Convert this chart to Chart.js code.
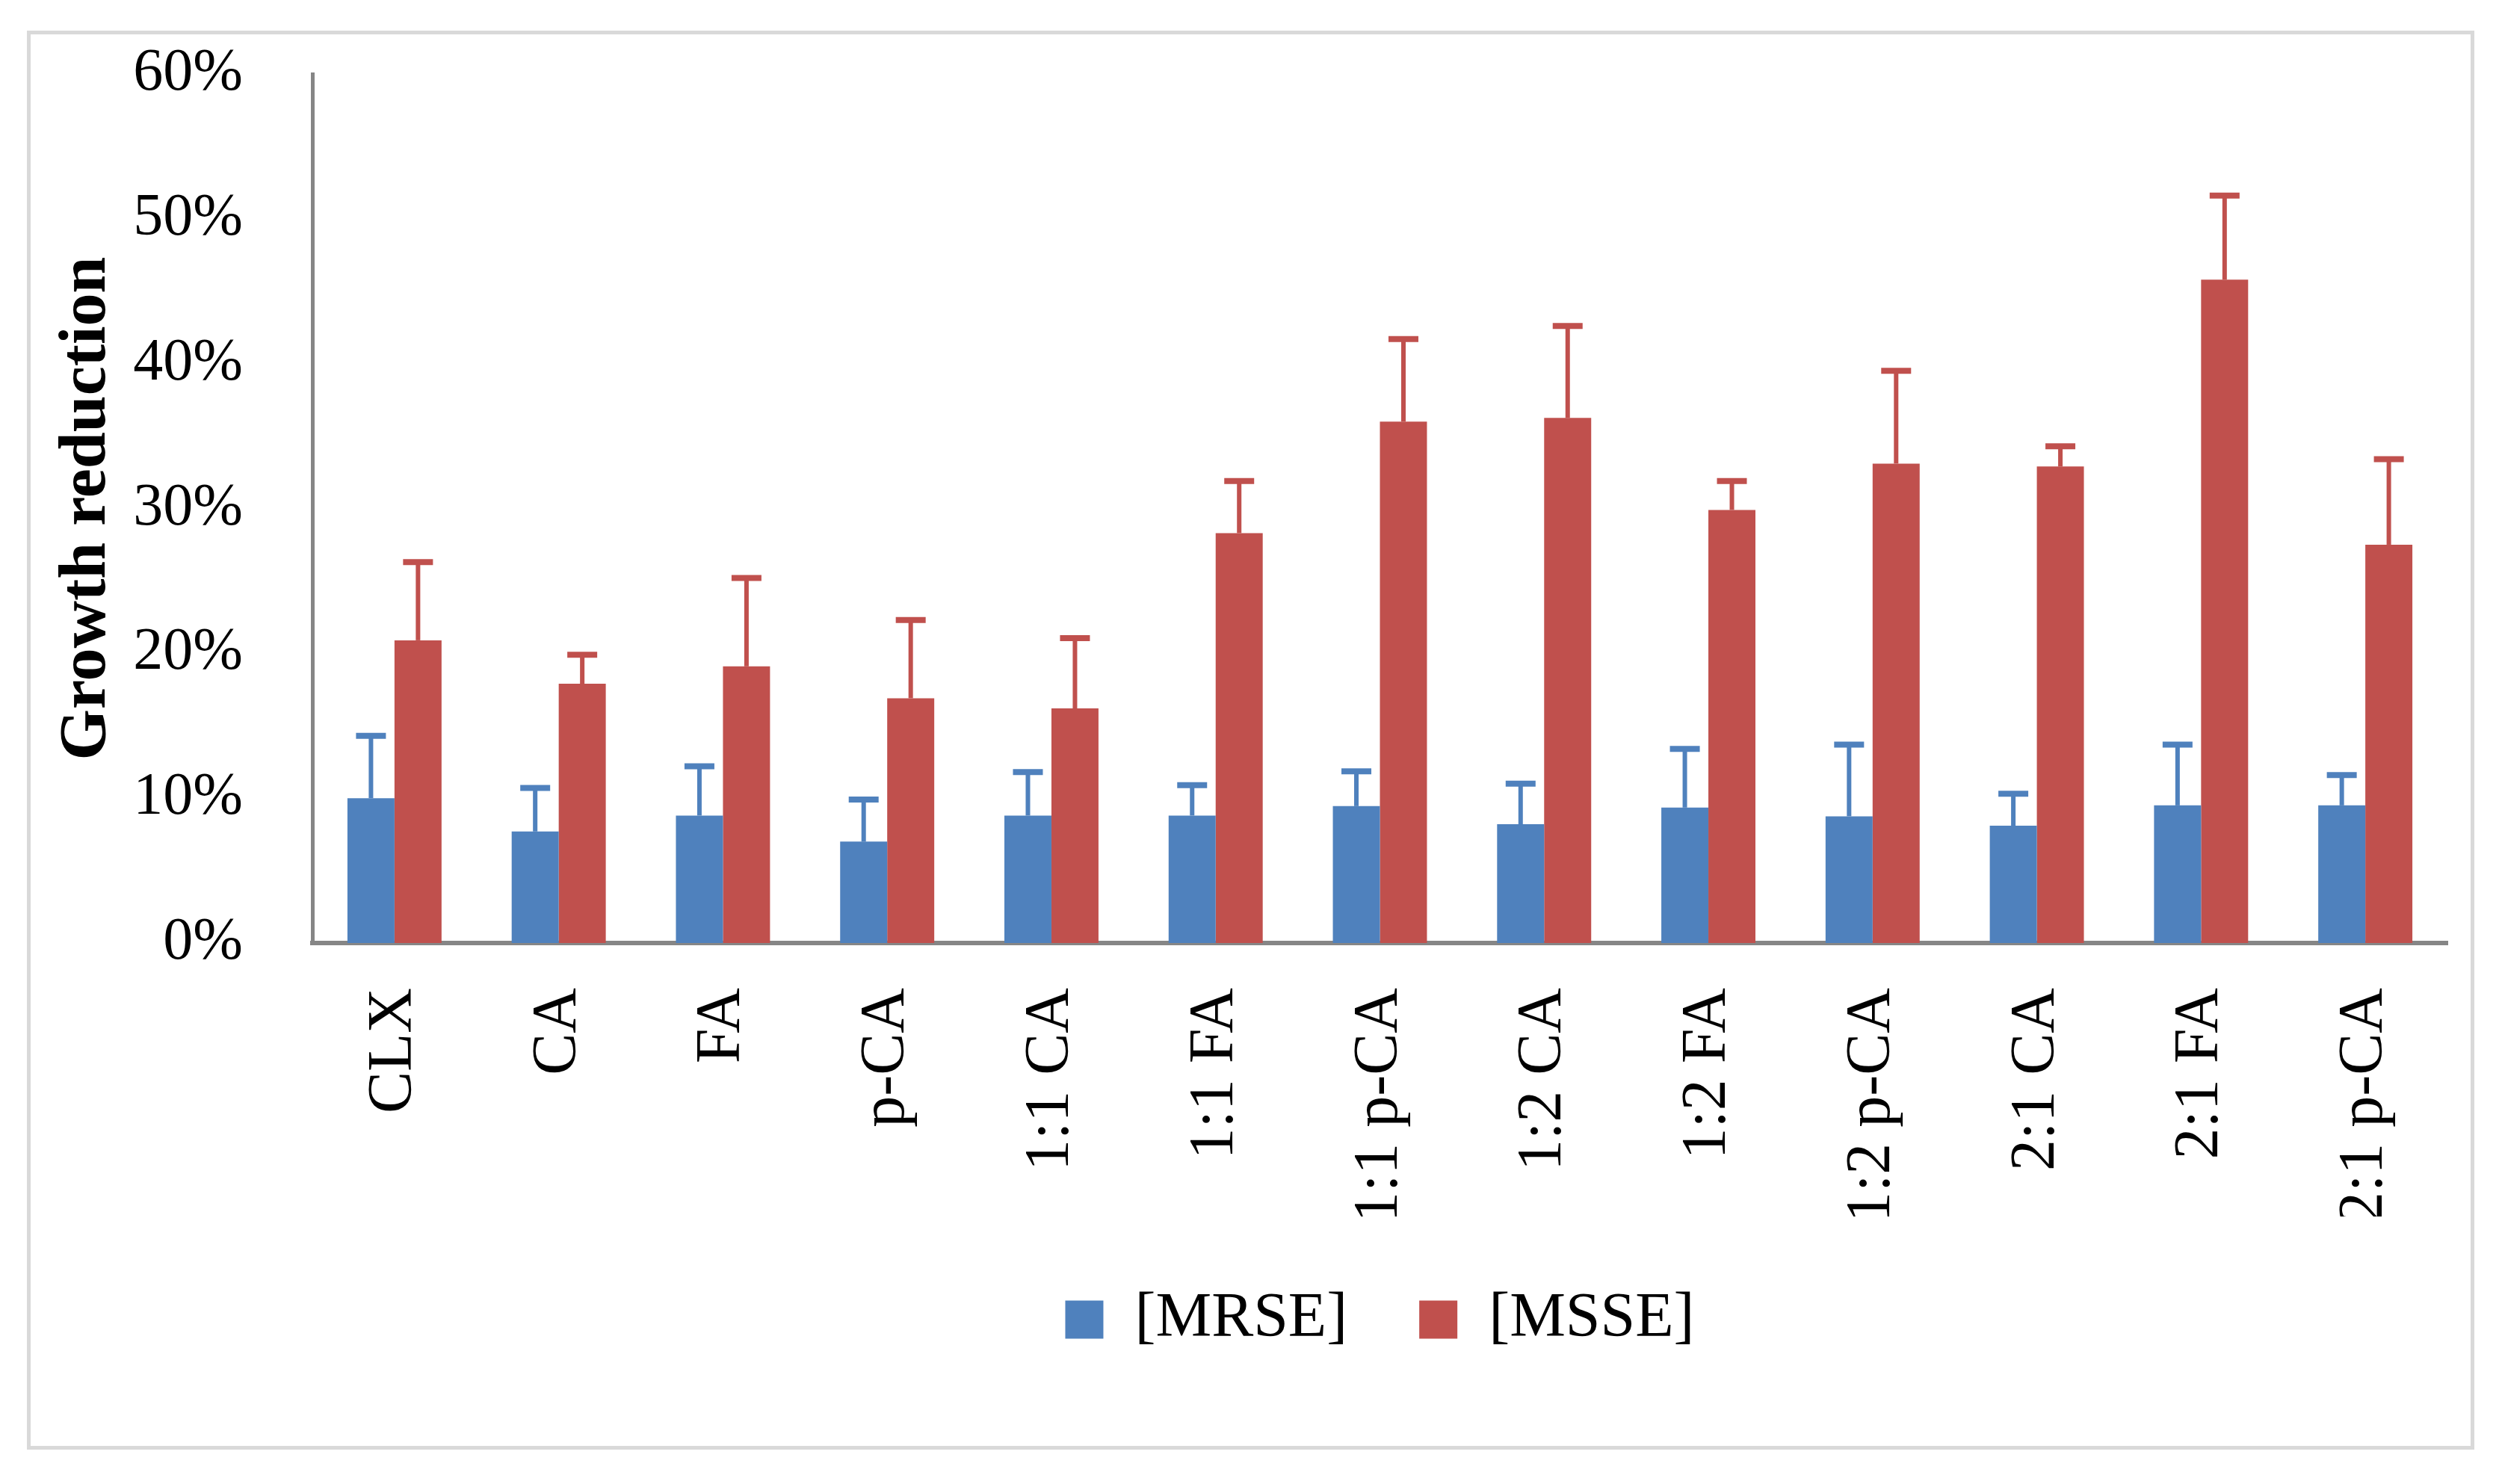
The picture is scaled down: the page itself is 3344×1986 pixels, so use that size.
<!DOCTYPE html>
<html>
<head>
<meta charset="utf-8">
<script src="https://cdn.jsdelivr.net/npm/chart.js@4.4.0/dist/chart.umd.min.js"></script>
<style>
    html, body { margin: 0; padding: 0; background: #fff; }
    #frame { position: absolute; left: 36px; top: 41px; width: 3265px; height: 1889px; border: 5px solid #d9d9d9; }
    #wrap { position: absolute; left: 0; top: 0; width: 3344px; height: 1986px; }
</style>
</head>
<body>
<div id="frame"></div>
<div id="wrap"><canvas id="myChart"></canvas></div>
<script>
const categories = ['CLX', 'CA', 'FA', 'p-CA', '1:1 CA', '1:1 FA', '1:1 p-CA', '1:2 CA', '1:2 FA', '1:2 p-CA', '2:1 CA', '2:1 FA', '2:1 p-CA'];

// growth reduction in %, with the upper error amount
const mrse = [10.0, 7.7, 8.8, 7.0, 8.8, 8.8, 9.45, 8.2, 9.35, 8.75, 8.1, 9.5, 9.5];
const mrseErr = [4.3, 3.0, 3.4, 2.9, 3.0, 2.1, 2.4, 2.8, 4.05, 4.95, 2.2, 4.2, 2.1];
const msse = [20.9, 17.9, 19.1, 16.9, 16.2, 28.3, 36.0, 36.25, 29.9, 33.1, 32.9, 45.8, 27.5];
const msseErr = [5.4, 2.0, 6.1, 5.4, 4.85, 3.6, 5.7, 6.35, 2.0, 6.4, 1.4, 5.8, 5.9];

const yTicks = [0, 10, 20, 30, 40, 50, 60];

const serif = "'Liberation Serif', 'Times New Roman', serif";

const errorBars = {
    id: 'errorBars',
    afterDatasetsDraw(chart) {
        const ctx = chart.ctx;
        const yScale = chart.scales.y;
        chart.data.datasets.forEach((ds, i) => {
            const meta = chart.getDatasetMeta(i);
            meta.data.forEach((bar, j) => {
                const top = yScale.getPixelForValue(ds.data[j] + ds.errors[j]);
                ctx.save();
                ctx.strokeStyle = ds.backgroundColor;
                ctx.lineWidth = 6;
                ctx.beginPath();
                ctx.moveTo(bar.x, bar.y);
                ctx.lineTo(bar.x, top);
                ctx.stroke();
                ctx.lineWidth = 8;
                ctx.beginPath();
                ctx.moveTo(bar.x - 20, top);
                ctx.lineTo(bar.x + 20, top);
                ctx.stroke();
                ctx.restore();
            });
        });
    }
};

var ctx = document.getElementById('myChart').getContext('2d');

var myChart = new Chart(ctx, {
    type: 'bar',
    data: {
        labels: categories,
        datasets: [
            {
                label: '[MRSE]',
                data: mrse,
                errors: mrseErr,
                backgroundColor: '#4f81bd',
                categoryPercentage: 0.573,
                barPercentage: 1.0
            },
            {
                label: '[MSSE]',
                data: msse,
                errors: msseErr,
                backgroundColor: '#c0504d',
                categoryPercentage: 0.573,
                barPercentage: 1.0
            }
        ]
    },
    options: {
        responsive: true,
        maintainAspectRatio: false,
        animation: false,
        layout: {
            padding: { left: 0, right: 69, top: 99, bottom: 168 }
        },
        plugins: {
            legend: {
                position: 'bottom',
                fullSize: false,
                labels: {
                    boxWidth: 51,
                    boxHeight: 51,
                    padding: 96,
                    color: '#000',
                    font: { family: serif, size: 84 }
                }
            },
            tooltip: { enabled: false }
        },
        scales: {
            x: {
                grid: { display: false, drawTicks: false },
                border: { color: '#868686', width: 6 },
                ticks: {
                    minRotation: 90,
                    maxRotation: 90,
                    autoSkip: false,
                    padding: 60,
                    color: '#000',
                    font: { family: serif, size: 84 }
                },
                afterFit: function (scale) { scale.height = 366; }
            },
            y: {
                min: 0,
                max: 60,
                afterBuildTicks: function (scale) {
                    scale.ticks = yTicks.map(v => ({ value: v }));
                },
                grid: { display: false, drawTicks: false },
                border: { color: '#868686', width: 5 },
                ticks: {
                    padding: 93,
                    color: '#000',
                    font: { family: serif, size: 80 },
                    callback: v => v + '%'
                },
                title: {
                    display: true,
                    text: 'Growth reduction',
                    color: '#000',
                    font: { family: serif, size: 88, weight: 'bold' },
                    padding: { top: 64, bottom: 0 }
                },
                afterFit: function (scale) {
                    scale.width = 418;
                    scale.paddingTop = 40;
                    scale.paddingBottom = 40;
                }
            }
        }
    },
    plugins: [errorBars]
});
</script>
</body>
</html>
